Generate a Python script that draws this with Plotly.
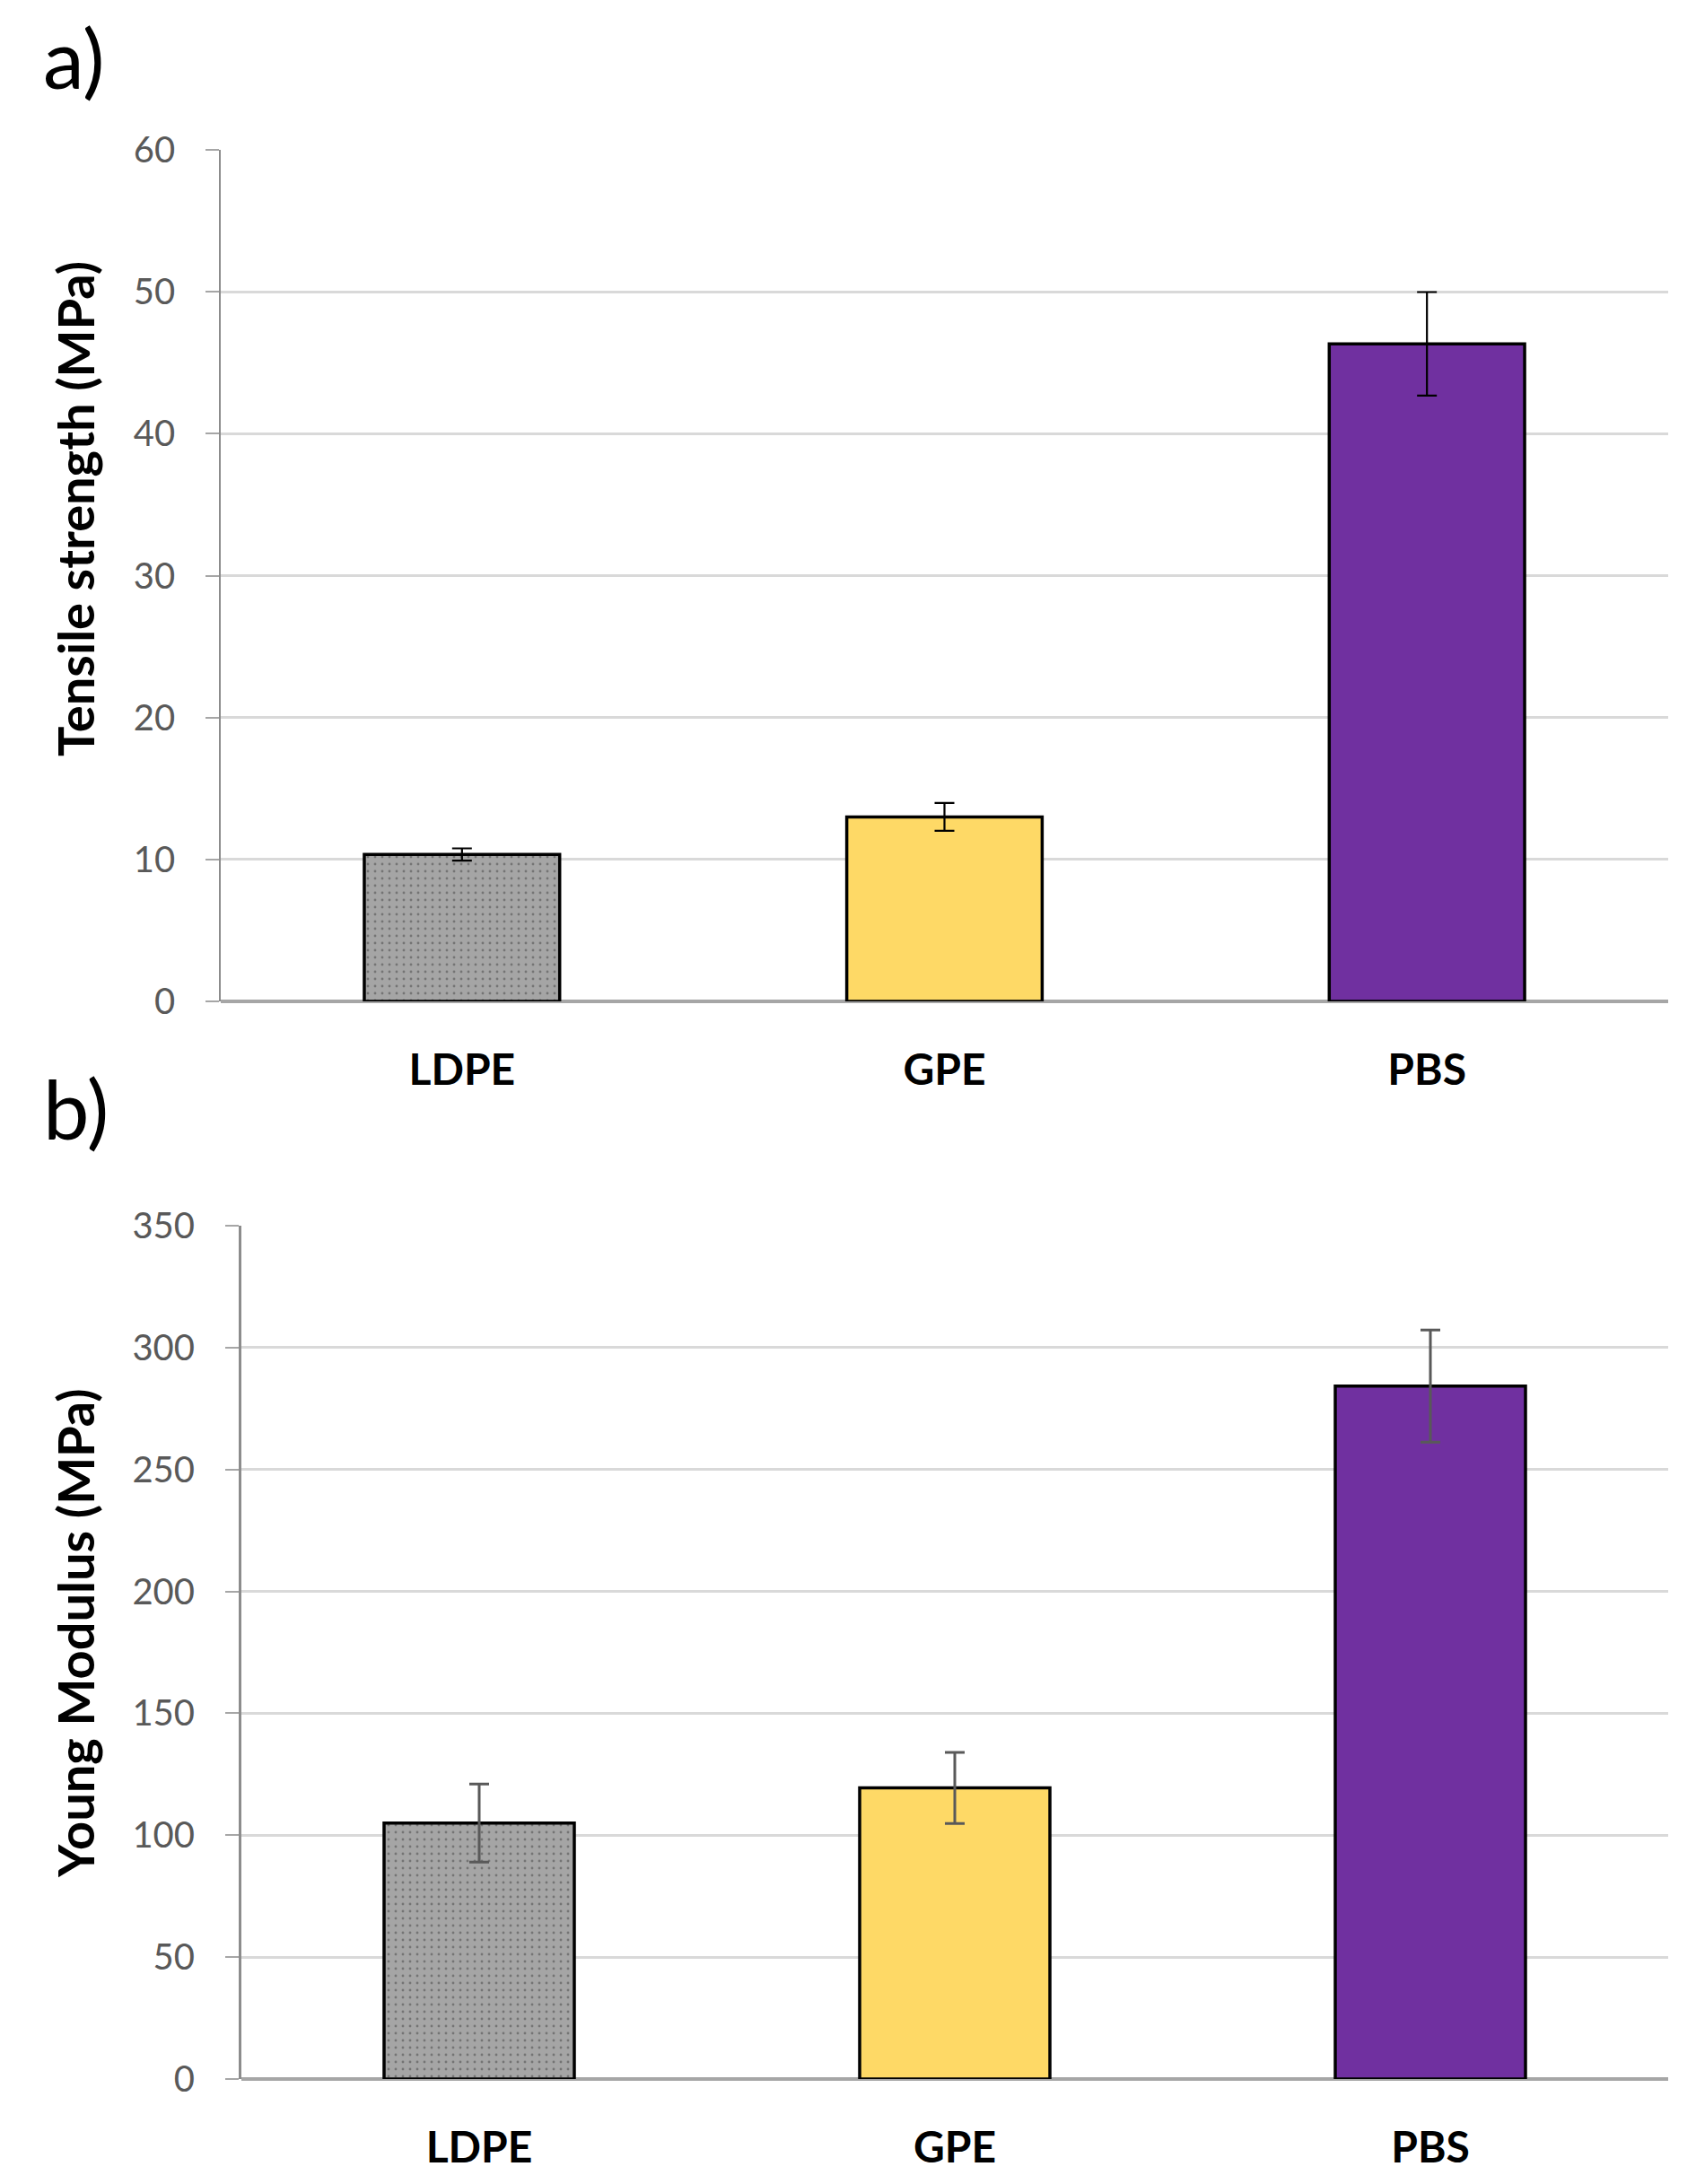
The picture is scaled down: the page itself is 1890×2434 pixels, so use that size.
import plotly.graph_objects as go

# ---- data ----
categories = ["LDPE", "GPE", "PBS"]
tensile_strength = [10.35, 13.0, 46.33]
tensile_err = [0.43, 0.98, 3.65]
young_modulus = [105.0, 119.4, 284.2]
young_err = [16.0, 14.6, 23.0]
bar_colors = ["#a5a5a5", "#fed966", "#7030a0"]
panel_labels = ["a)", "b)"]
y_titles = ["Tensile strength (MPa)", "Young Modulus (MPa)"]

W, H = 1890, 2434
FONT = "Lato"

fig = go.Figure()

pattern = dict(shape=[".", "", ""], fgcolor="#969696", size=8, solidity=0.1)

fig.add_trace(go.Bar(
    x=categories, y=tensile_strength, xaxis="x", yaxis="y",
    width=0.405,
    marker=dict(color=bar_colors, line=dict(color="#000000", width=3.5), pattern=pattern),
    error_y=dict(type="data", array=tensile_err, visible=True, color="#000000",
                 thickness=2.2, width=11),
    showlegend=False,
))
fig.add_trace(go.Bar(
    x=categories, y=young_modulus, xaxis="x2", yaxis="y2",
    width=0.40,
    marker=dict(color=bar_colors, line=dict(color="#000000", width=3.5), pattern=pattern),
    error_y=dict(type="data", array=young_err, visible=True, color="#595959",
                 thickness=3, width=11),
    showlegend=False,
))

tickfont = dict(family=FONT, size=40, color="#595959")
catfont = dict(family=FONT, size=48, color="#000000", weight="bold")

common_x = dict(type="category", showgrid=False, ticks="", showline=False,
                tickfont=catfont, ticklabelstandoff=44, zeroline=False, automargin=False)
common_y = dict(showgrid=True, gridcolor="#d9d9d9", gridwidth=2.5,
                ticks="outside", ticklen=15, tickwidth=2, tickcolor="#a6a6a6",
                showline=True, linecolor="#8c8c8c", tickfont=tickfont,
                ticklabelstandoff=26, zeroline=True, zerolinecolor="#a6a6a6",
                zerolinewidth=3.5, automargin=False)

fig.update_layout(
    width=W, height=H,
    margin=dict(l=0, r=0, t=0, b=0, pad=0, autoexpand=False),
    paper_bgcolor="white", plot_bgcolor="white",
    bargap=0.6,
    xaxis=dict(domain=[238 / W, 1851 / W], anchor="y", **common_x),
    yaxis=dict(domain=[1 - 1108 / H, 1 - 159 / H], anchor="x", range=[0, 60], dtick=10,
               linewidth=1.5, **common_y),
    xaxis2=dict(domain=[261 / W, 1851 / W], anchor="y2", **common_x),
    yaxis2=dict(domain=[1 - 2309 / H, 1 - 1358 / H], anchor="x2", range=[0, 350], dtick=50,
                linewidth=3, **common_y),
)

# panel labels
fig.add_annotation(text=panel_labels[0], xref="paper", yref="paper",
                   x=38 / W, y=1 - 56 / H, xanchor="left", yanchor="middle",
                   showarrow=False, font=dict(family=FONT, size=92, color="#000000"))
fig.add_annotation(text=panel_labels[1], xref="paper", yref="paper",
                   x=38 / W, y=1 - 1226 / H, xanchor="left", yanchor="middle",
                   showarrow=False, font=dict(family=FONT, size=92, color="#000000"))

# y-axis titles
fig.add_annotation(text=y_titles[0], xref="paper", yref="paper",
                   x=75 / W, y=1 - 559 / H, textangle=-90, xanchor="center", yanchor="middle",
                   showarrow=False, font=dict(family=FONT, size=56, color="#000000", weight="bold"))
fig.add_annotation(text=y_titles[1], xref="paper", yref="paper",
                   x=75 / W, y=1 - 1812 / H, textangle=-90, xanchor="center", yanchor="middle",
                   showarrow=False, font=dict(family=FONT, size=56, color="#000000", weight="bold"))

fig.write_html("out.html")
